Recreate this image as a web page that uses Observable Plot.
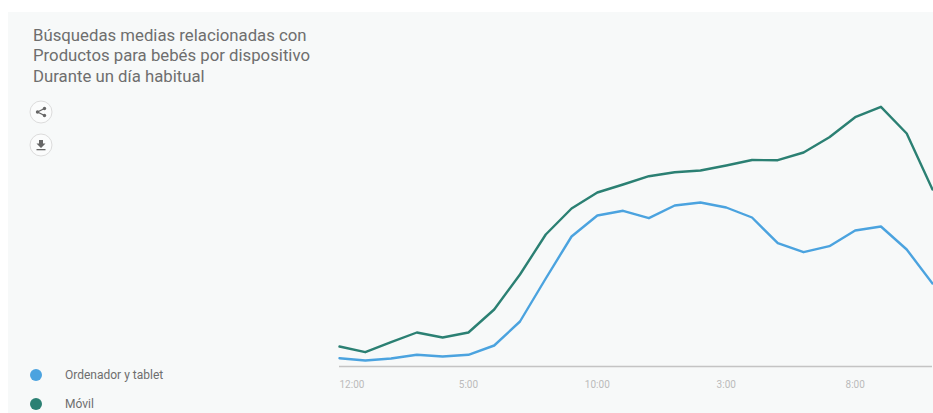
<!DOCTYPE html>
<html lang="es">
<head>
<meta charset="utf-8">
<script src="https://cdn.jsdelivr.net/npm/d3@7"></script>
<script src="https://cdn.jsdelivr.net/npm/@observablehq/plot@0.6"></script>
<style>
  html, body { margin: 0; background: #fff; }
  body { position: relative; width: 933px; height: 413px; overflow: hidden; font-family: Roboto, sans-serif; }
  #panel { position: absolute; left: 8px; top: 12px; width: 925px; height: 401px; background: #f7f9f9; }
  #title { position: absolute; left: 33px; top: 24.5px; margin: 0; font-size: 16.75px; font-weight: 400; line-height: 20.7px; color: #6e6e6e; white-space: nowrap; }
  .icon { position: absolute; left: 29px; width: 24px; height: 24px; }
  #share { top: 100px; }
  #download { top: 133px; }
  .key { position: absolute; left: 30px; height: 16px; display: flex; align-items: center; font-size: 12px; color: #6e6e6e; }
  .key i { width: 12px; height: 12px; border-radius: 50%; margin-right: 23px; }
  #chart { position: absolute; left: 330px; top: 90px; }
</style>
</head>
<body>
<div id="panel"></div>
<h1 id="title">Búsquedas medias relacionadas con<br>Productos para bebés por dispositivo<br>Durante un día habitual</h1>
<svg class="icon" id="share" viewBox="0 0 24 24">
  <circle cx="12" cy="12" r="11" fill="#fbfcfc" stroke="#dcdcdc"/>
  <path d="M15.5 8.5 L8.5 12 L15.5 15.5" fill="none" stroke="#666" stroke-width="1.3"/>
  <circle cx="8.5" cy="12" r="1.7" fill="#666"/><circle cx="15.5" cy="8.5" r="1.7" fill="#666"/><circle cx="15.5" cy="15.5" r="1.7" fill="#666"/>
</svg>
<svg class="icon" id="download" viewBox="0 0 24 24">
  <circle cx="12" cy="12" r="11" fill="#fbfcfc" stroke="#dcdcdc"/>
  <path d="M10 7 H14 V10.5 H16.5 L12 15 L7.5 10.5 H10 Z" fill="#666"/>
  <rect x="7.5" y="16" width="9" height="1.3" fill="#666"/>
</svg>
<div class="key" style="top:367px"><i style="background:#4ba3df"></i>Ordenador y tablet</div>
<div class="key" style="top:396px"><i style="background:#2b8073"></i>Móvil</div>
<div id="chart"></div>
<script>
// Horas del día, de medianoche a las 23:00
const hours = d3.range(24);
const desktop = [8.3, 6, 8, 11.7, 10, 11.7, 21, 45, 88, 130, 151, 155.7, 148.3, 161, 164, 159, 149, 123.3, 114.3, 120.3, 136, 140, 117, 83];
const mobile = [20, 14.3, 24.3, 34, 29, 34, 57, 92, 132, 158, 174, 182, 190.3, 194.3, 196, 201, 206.5, 206.3, 214, 229.3, 249.3, 259.7, 233, 177];
const tickHours = [5, 10, 15, 20];
const tickLabels = ["5:00", "10:00", "3:00", "8:00"];
const firstTickLabel = "12:00";
const blue = "#4ba3df";
const green = "#2b8073";

const line = (values, stroke) =>
  Plot.line(hours, {x: d => d, y: d => values[d], stroke, strokeWidth: 2.4, curve: "linear"});

const chart = Plot.plot({
  width: 603,
  height: 323,
  marginLeft: 9,
  marginRight: 1,
  marginTop: 16,
  marginBottom: 47,
  style: {background: "transparent", fontFamily: "Roboto, sans-serif", fontSize: "10px", overflow: "visible"},
  x: {domain: [0, 23], label: null},
  y: {domain: [0, 260], axis: null},
  marks: [
    Plot.ruleY([0], {stroke: "#c4c4c4", strokeWidth: 1.5}),
    line(desktop, blue),
    line(mobile, green),
    Plot.axisX({
      ticks: tickHours,
      tickSize: 0,
      tickPadding: 14,
      tickFormat: d => tickLabels[tickHours.indexOf(d)],
      fill: "#bbb",
      label: null
    }),
    Plot.axisX({
      ticks: [0],
      tickSize: 0,
      tickPadding: 14,
      tickFormat: () => firstTickLabel,
      textAnchor: "start",
      fill: "#bbb",
      label: null
    })
  ]
});
document.getElementById("chart").append(chart);
</script>
</body>
</html>
